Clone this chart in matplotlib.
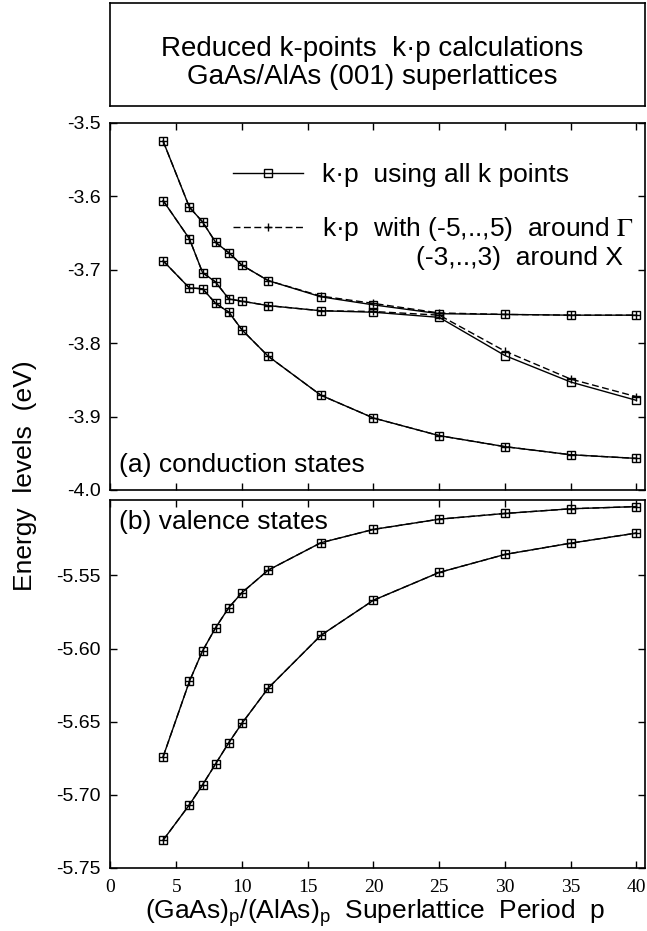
import numpy as np
import matplotlib.pyplot as plt
from matplotlib.ticker import FormatStrFormatter

plt.rcParams['font.family'] = ['Liberation Sans', 'DejaVu Sans']
plt.rcParams['axes.unicode_minus'] = False
plt.rcParams['mathtext.fontset'] = 'custom'
plt.rcParams['mathtext.rm'] = 'Liberation Sans'
plt.rcParams['mathtext.it'] = 'Liberation Sans:italic'

# superlattice periods
period = [4, 6, 7, 8, 9, 10, 12, 16, 20, 25, 30, 35, 40]

# (a) conduction states, k.p with all k points
cond_top = [-3.525, -3.615, -3.635, -3.663, -3.677, -3.694, -3.715, -3.737, -3.748, -3.760, -3.761, -3.762, -3.762]
cond_mid = [-3.606, -3.658, -3.704, -3.717, -3.740, -3.743, -3.749, -3.756, -3.758, -3.765, -3.817, -3.853, -3.878]
cond_low = [-3.688, -3.725, -3.726, -3.746, -3.758, -3.782, -3.818, -3.871, -3.902, -3.926, -3.941, -3.952, -3.957]

# (a) conduction states, reduced k points
cond_top_red = [-3.525, -3.615, -3.635, -3.663, -3.677, -3.694, -3.715, -3.736, -3.746, -3.759, -3.761, -3.762, -3.762]
cond_mid_red = [-3.606, -3.658, -3.704, -3.717, -3.740, -3.743, -3.749, -3.756, -3.757, -3.762, -3.811, -3.849, -3.873]
cond_low_red = [-3.688, -3.725, -3.726, -3.746, -3.758, -3.782, -3.818, -3.871, -3.902, -3.926, -3.941, -3.952, -3.957]

# (b) valence states (both methods coincide)
val_top = [-5.674, -5.6225, -5.6016, -5.5857, -5.572, -5.5618, -5.5464, -5.5277, -5.5186, -5.5116, -5.5077, -5.5045, -5.503]
val_low = [-5.731, -5.7068, -5.6932, -5.6787, -5.6643, -5.6511, -5.627, -5.591, -5.567, -5.548, -5.5357, -5.528, -5.5211]

xticks = [0, 5, 10, 15, 20, 25, 30, 35, 40]
yticks_a = [-4.0, -3.9, -3.8, -3.7, -3.6, -3.5]
yticks_b = [-5.75, -5.70, -5.65, -5.60, -5.55]

W, H = 647, 931
fig = plt.figure(figsize=(W / 100, H / 100), dpi=100)

x0, x1 = 110.5, 645
def box(top, bottom):
    return [x0 / W, 1 - bottom / H, (x1 - x0) / W, (bottom - top) / H]

# title box
axt = fig.add_axes(box(3, 106))
axt.set_xticks([])
axt.set_yticks([])
for s in axt.spines.values():
    s.set_linewidth(1.2)
axt.text(0.49, 0.42, "Reduced k-points  k\u00b7p calculations\nGaAs/AlAs (001) superlattices",
         ha='center', va='center', fontsize=20, linespacing=1.08, transform=axt.transAxes)

ax_a = fig.add_axes(box(122.7, 490))
ax_b = fig.add_axes(box(500, 868))

solid = dict(color='black', lw=1.0, marker='s', ms=6, mfc='none', mew=1.0)
dashed = dict(color='black', lw=1.0, ls=(0, (5, 2.5)), marker='+', ms=6, mew=1.0)

h1 = None
for ys in (cond_top, cond_mid, cond_low):
    l, = ax_a.plot(period, ys, **solid)
    h1 = h1 or l
h2 = None
for ys in (cond_top_red, cond_mid_red, cond_low_red):
    l, = ax_a.plot(period, ys, **dashed)
    h2 = h2 or l

for ys in (val_top, val_low):
    ax_b.plot(period, ys, **solid)
    ax_b.plot(period, ys, **dashed)

for ax in (ax_a, ax_b):
    ax.set_xlim(0, 40.65)
    ax.set_xticks(xticks)
    ax.tick_params(direction='in', top=True, right=True, length=5, width=1.0)
    for s in ax.spines.values():
        s.set_linewidth(1.2)

ax_a.set_ylim(-4.0, -3.5)
ax_a.set_yticks(yticks_a)
ax_a.yaxis.set_major_formatter(FormatStrFormatter('%.1f'))
ax_a.tick_params(axis='x', labelbottom=False)
ax_a.tick_params(axis='y', labelsize=14, pad=7)

ax_b.set_ylim(-5.75, -5.4985)
ax_b.set_yticks(yticks_b)
ax_b.yaxis.set_major_formatter(FormatStrFormatter('%.2f'))
ax_b.tick_params(axis='y', labelsize=14, pad=7)
ax_b.tick_params(axis='x', labelsize=14, pad=8)
for t in ax_b.get_xticklabels():
    t.set_family('Liberation Serif')

leg = ax_a.legend([h1, h2], ["k\u00b7p  using all k points", "k\u00b7p  with (-5,..,5)  around $\\Gamma$"],
                  loc='upper left', bbox_to_anchor=(0.229, 0.89), frameon=False,
                  fontsize=19, handlelength=2.65, handletextpad=0.72, labelspacing=1.05,
                  borderpad=0, borderaxespad=0, numpoints=1)
leg.get_texts()[1].set_math_fontfamily('stix')
ax_a.text(0.959, 0.632, "(-3,..,3)  around X", ha='right', va='center', fontsize=19,
          transform=ax_a.transAxes)

ax_a.text(0.016, 0.068, "(a) conduction states", ha='left', va='center', fontsize=19,
          transform=ax_a.transAxes)
ax_b.text(0.016, 0.94, "(b) valence states", ha='left', va='center', fontsize=19,
          transform=ax_b.transAxes)

ax_b.set_xlabel("(GaAs)$_\\mathrm{p}$/(AlAs)$_\\mathrm{p}$  Superlattice  Period  p", fontsize=19)
ax_b.xaxis.set_label_coords(0.495, -0.124)
ax_b.xaxis.label.set_va('center')

fig.text(25 / W, 1 - 476 / H, "Energy  levels  (eV)", rotation=90, ha='center', va='center', fontsize=19)

fig.savefig('out.png', dpi=100)
